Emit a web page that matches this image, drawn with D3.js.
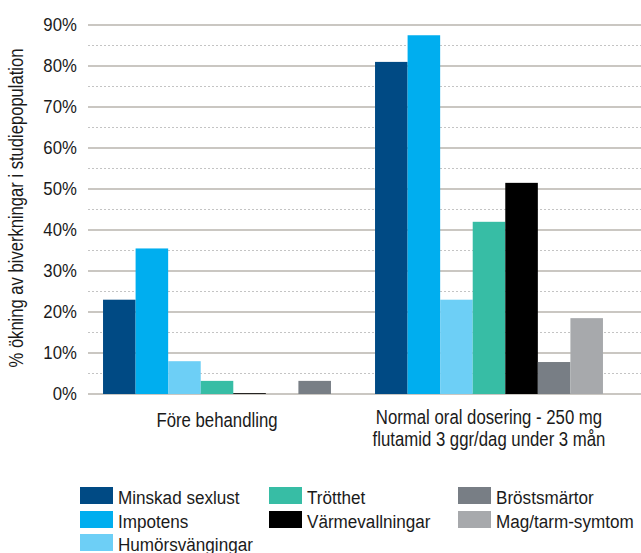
<!DOCTYPE html>
<html>
<head>
<meta charset="utf-8">
<script src="https://cdn.jsdelivr.net/npm/d3@7"></script>
<style>
  body { margin: 0; background: #fff; }
  text { font-family: "Liberation Sans", Arial, sans-serif; fill: #1a1a1a; }
</style>
</head>
<body>
<svg id="chart"></svg>
<script>
const groups = ['Före behandling', 'Normal oral dosering - 250 mg\nflutamid 3 ggr/dag under 3 mån'];
const series = ['Minskad sexlust', 'Impotens', 'Humörsvängingar', 'Trötthet', 'Värmevallningar', 'Bröstsmärtor', 'Mag/tarm-symtom'];
const colors = ['#004a84', '#00aeef', '#6dcff6', '#37bda5', '#000000', '#787e85', '#a7a9ac'];
// values in %, one array per group, in series order
const beforeValues = [23, 35.5, 8, 3.2, 0.2, 3.2, 0];
const duringValues = [81, 87.5, 23, 42, 51.5, 7.8, 18.5];
// bar order inside each group (the before group has the two grey series swapped)
const beforeOrder = ['Minskad sexlust', 'Impotens', 'Humörsvängingar', 'Trötthet', 'Värmevallningar', 'Mag/tarm-symtom', 'Bröstsmärtor'];
const duringOrder = series;
const yTicks = [0, 10, 20, 30, 40, 50, 60, 70, 80, 90];
const yMinorTicks = [5, 15, 25, 35, 45, 55, 65, 75, 85];
const yTitle = '% ökning av biverkningar i studiepopulation';
// legend columns as in the picture
const legendColumns = [
  ['Minskad sexlust', 'Impotens', 'Humörsvängingar'],
  ['Trötthet', 'Värmevallningar'],
  ['Bröstsmärtor', 'Mag/tarm-symtom']
];

const width = 641, height = 553;
const svg = d3.select('#chart').attr('width', width).attr('height', height);
const color = d3.scaleOrdinal().domain(series).range(colors);

const plotLeft = 88, plotRight = 641;
const y = d3.scaleLinear().domain([0, 90]).range([394, 25]);

const x0 = d3.scaleBand()
  .domain(groups)
  .range([81, 625])
  .paddingInner(0.162)
  .paddingOuter(0.081);

// condensed text helper (the original uses a narrow face)
function label(sel, x, y, str, size, sx, anchor) {
  return sel.append('text')
    .attr('transform', `translate(${x},${y}) scale(${sx},1)`)
    .attr('text-anchor', anchor || 'start')
    .style('font-size', size + 'px')
    .text(str);
}

// dotted minor grid
svg.append('g')
  .selectAll('line')
  .data(yMinorTicks)
  .join('line')
  .attr('x1', plotLeft).attr('x2', plotRight)
  .attr('y1', d => y(d)).attr('y2', d => y(d))
  .attr('stroke', '#c4c4c4')
  .attr('stroke-width', 1)
  .attr('stroke-dasharray', '2,2');

// solid major grid
svg.append('g')
  .selectAll('line')
  .data(yTicks)
  .join('line')
  .attr('x1', plotLeft).attr('x2', plotRight)
  .attr('y1', d => y(d)).attr('y2', d => y(d))
  .attr('stroke', '#b8b4ae')
  .attr('stroke-width', 1.5);

// y axis labels
const yAxis = svg.append('g')
  .attr('transform', `translate(${plotLeft}, 0)`)
  .call(d3.axisLeft(y).tickValues(yTicks).tickSize(0).tickPadding(12).tickFormat(d => d + '%'));
yAxis.select('.domain').remove();
yAxis.selectAll('text')
  .style('font-size', '18px')
  .attr('fill', '#1a1a1a')
  .attr('transform', 'scale(0.93,1)');

// bars
const data = [
  { group: groups[0], values: beforeValues, order: beforeOrder },
  { group: groups[1], values: duringValues, order: duringOrder }
];
data.forEach(g => {
  const x1 = d3.scaleBand().domain(g.order).range([0, x0.bandwidth()]);
  svg.append('g')
    .attr('transform', `translate(${x0(g.group)}, 0)`)
    .selectAll('rect')
    .data(g.values.map((v, j) => ({ key: series[j], value: v })))
    .join('rect')
    .attr('x', d => x1(d.key))
    .attr('width', x1.bandwidth())
    .attr('y', d => y(d.value))
    .attr('height', d => y(0) - y(d.value))
    .attr('fill', d => color(d.key));
});

// x labels
const xBaselines = [427, 424];
groups.forEach((g, gi) => {
  const cx = x0(g) + x0.bandwidth() / 2;
  g.split('\n').forEach((l, i) => {
    label(svg, cx, xBaselines[gi] + i * 22, l, 19.5, 0.86, 'middle');
  });
});

// y title
svg.append('text')
  .attr('transform', 'translate(23, 208) rotate(-90) scale(0.83,1)')
  .attr('text-anchor', 'middle')
  .style('font-size', '20px')
  .text(yTitle);

// legend
const legendColX = [80, 269, 458];
const legendRowY = [487, 511, 534];
legendColumns.forEach((col, ci) => {
  col.forEach((name, ri) => {
    const g = svg.append('g')
      .attr('transform', `translate(${legendColX[ci]}, ${legendRowY[ri]})`);
    g.append('rect')
      .attr('width', 33).attr('height', 17)
      .attr('fill', color(name));
    label(g, 38, 16.5, name, 19, 0.9);
  });
});
</script>
</body>
</html>
